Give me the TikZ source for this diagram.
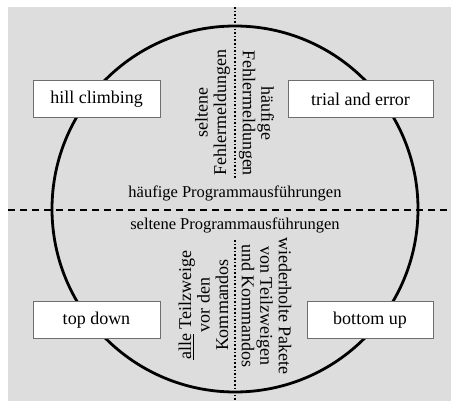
\documentclass[tikz,border=0pt]{standalone}
\usepackage{fontspec}
\setmainfont{Liberation Serif}
\usepackage{tikz}
\usetikzlibrary{calc, positioning}
\definecolor{bggray}{RGB}{221,221,221}
\definecolor{boxline}{RGB}{110,110,110}

\begin{document}
\begin{tikzpicture}[x=1pt,y=-1pt,
    method/.style={draw=boxline, fill=white, line width=0.8pt, minimum height=37pt, inner sep=0pt},
    label/.style={font=\fontsize{18}{18.5}\selectfont, align=center, inner sep=0pt},
    axislabel/.style={font=\fontsize{16.5}{18.5}\selectfont, inner sep=0pt}]
            \useasboundingbox (0,0) rectangle (451,401);
            % background field
            \fill[bggray] (8,7) rectangle (451,401);

            % the circle
            \draw[line width=2.8pt] (235,209) circle (183);

            % axes: program runs (dashed) and error messages (dotted)
            \draw[line width=2pt, dash pattern=on 7pt off 5pt] (8,210) -- (451,210);
            \draw[line width=1.6pt, dotted] (235,7) -- (235,178);
            \draw[line width=1.6pt, dotted] (235,240) -- (235,401);

            % the four strategies
            \node[method, minimum width=127pt, label] (hill) at (96.5,99) {hill climbing};
            \node[method, minimum width=145pt, label] (trial) at (360.5,99) {trial and error};
            \node[method, minimum width=127pt, label] (topdown) at (96.5,320) {top down};
            \node[method, minimum width=126pt, label] (bottomup) at (370,320) {bottom up};

            % axis labels
            \node[axislabel] (runsmany) at (235,193) {häufige Programmausführungen};
            \node[axislabel] (runsfew) at (235,225) {seltene Programmausführungen};
            \node[label, rotate=90] (errfew) at (212.5,113) {seltene\\Fehlermeldungen};
            \node[label, rotate=-90] (errmany) at (256.5,113) {häufige\\Fehlermeldungen};
            \node[label, rotate=90] (allbranch) at (203.5,305) {\underline{alle} Teilzweige\\vor den\\Kommandos};
            \node[label, rotate=-90] (packets) at (266.5,306) {wiederholte Pakete\\von Teilzweigen\\und Kommandos};
        \end{tikzpicture}
\end{document}
